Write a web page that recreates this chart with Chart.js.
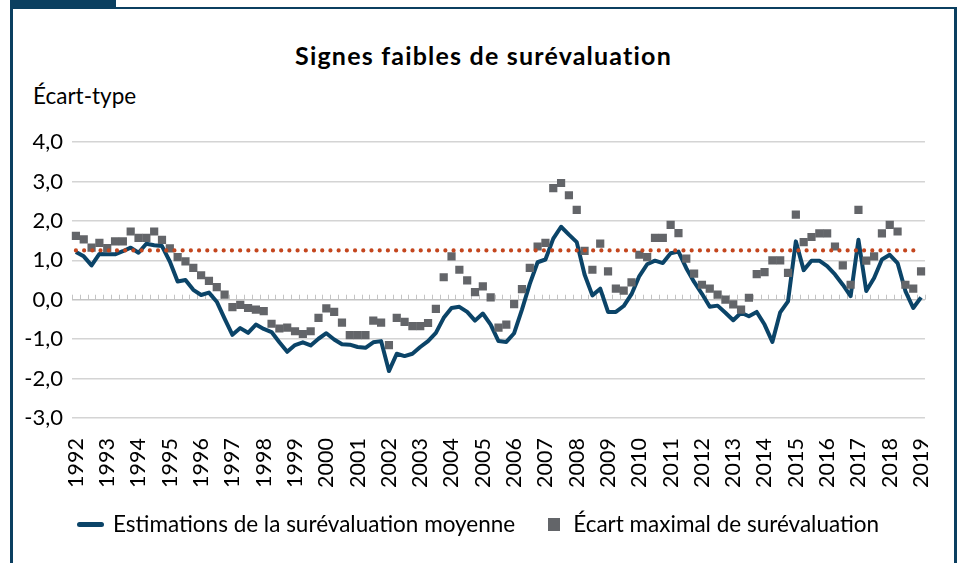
<!DOCTYPE html>
<html lang="fr">
<head>
<meta charset="utf-8">
<title>Signes faibles de surévaluation</title>
<script src="https://cdn.jsdelivr.net/npm/chart.js@4.4.1/dist/chart.umd.min.js"></script>
<style>
  html, body { margin: 0; padding: 0; background: #fff; }
  body { width: 959px; height: 563px; position: relative; overflow: hidden; font-family: Lato, "Open Sans", sans-serif; color: #000; }
  #onglet { position: absolute; left: 10px; top: 0; width: 106px; height: 9px; background: #0b3f60; }
  #cadre { position: absolute; left: 10px; top: 7px; width: 947px; height: 560px; box-sizing: border-box;
           border: 2px solid #0b3f60; border-left-width: 3px; border-right-width: 3px; border-bottom: none; }
  #titre { position: absolute; left: 4px; top: 40px; width: 959px; text-align: center; font-weight: bold; font-size: 25px; letter-spacing: 1.2px; line-height: 30px; }
  #unite { position: absolute; left: 33px; top: 83px; font-size: 22.5px; line-height: 26px; }
  #graphique { position: absolute; left: 0; top: 0; }
  #legende { position: absolute; left: 77px; top: 510px; display: flex; align-items: center; font-size: 22.5px; line-height: 28px; }
  #legende .trait { width: 27px; height: 5px; border-radius: 3px; background: #0b4468; margin-right: 9px; }
  #legende .carre { width: 12px; height: 13px; background: #636569; margin: 0 13px 0 33px; }
</style>
</head>
<body>
<div id="onglet"></div>
<div id="cadre"></div>
<div id="titre">Signes faibles de surévaluation</div>
<div id="unite">Écart-type</div>
<canvas id="graphique" width="959" height="563"></canvas>
<div id="legende">
  <span class="trait"></span><span>Estimations de la surévaluation moyenne</span>
  <span class="carre"></span><span>Écart maximal de surévaluation</span>
</div>
<script>
// trimestres 1992T1 -> 2019T1
const annees = [];
for (let a = 1992; a <= 2019; a++) {
  const nb = a === 2019 ? 1 : 4;
  for (let t = 1; t <= nb; t++) annees.push(a + "T" + t);
}

const moyenne = [
  1.21, 1.10, 0.87, 1.16, 1.15, 1.15, 1.23, 1.32, 1.19, 1.42, 1.38, 1.36,
  0.97, 0.46, 0.50, 0.25, 0.12, 0.18, -0.05, -0.48, -0.89, -0.72, -0.84, -0.63,
  -0.74, -0.82, -1.08, -1.32, -1.15, -1.08, -1.16, -0.99, -0.85, -1.01, -1.13, -1.14,
  -1.20, -1.22, -1.08, -1.05, -1.81, -1.37, -1.43, -1.37, -1.20, -1.05, -0.84, -0.46,
  -0.21, -0.18, -0.31, -0.53, -0.35, -0.63, -1.05, -1.07, -0.85, -0.25, 0.40, 0.95,
  1.02, 1.55, 1.85, 1.65, 1.46, 0.64, 0.11, 0.28, -0.31, -0.31, -0.16, 0.14,
  0.60, 0.90, 0.99, 0.93, 1.18, 1.22, 0.80, 0.45, 0.15, -0.18, -0.15, -0.33,
  -0.52, -0.33, -0.42, -0.31, -0.63, -1.07, -0.32, -0.04, 1.48, 0.75, 0.99, 0.99,
  0.85, 0.64, 0.38, 0.09, 1.52, 0.22, 0.55, 1.02, 1.14, 0.93, 0.22, -0.21,
  0.06
];

const ecartMax = [
  1.62, 1.53, 1.32, 1.44, 1.31, 1.48, 1.48, 1.73, 1.57, 1.57, 1.73, 1.52,
  1.30, 1.08, 0.97, 0.81, 0.62, 0.48, 0.32, 0.13, -0.19, -0.13, -0.21, -0.25,
  -0.29, -0.61, -0.73, -0.71, -0.80, -0.87, -0.80, -0.46, -0.22, -0.31, -0.58, -0.90,
  -0.90, -0.90, -0.53, -0.58, -1.15, -0.46, -0.56, -0.67, -0.67, -0.59, -0.23, 0.57,
  1.10, 0.76, 0.49, 0.19, 0.34, 0.06, -0.71, -0.63, -0.11, 0.27, 0.81, 1.35,
  1.44, 2.83, 2.96, 2.65, 2.28, 1.24, 0.76, 1.42, 0.72, 0.28, 0.23, 0.44,
  1.14, 1.08, 1.57, 1.57, 1.90, 1.69, 1.04, 0.66, 0.38, 0.28, 0.13, 0.00,
  -0.12, -0.25, 0.05, 0.65, 0.70, 1.00, 1.00, 0.68, 2.16, 1.46, 1.59, 1.68,
  1.68, 1.35, 0.87, 0.38, 2.28, 0.99, 1.10, 1.68, 1.90, 1.73, 0.38, 0.28,
  0.72
];

// seuil horizontal (pointillés rouges)
const seuil = 1.25;

const ticksY = [-3, -2, -1, 0, 1, 2, 3, 4];

// petites graduations sur l'axe zéro, entre chaque trimestre
const graduations = {
  id: "graduations",
  beforeDatasetsDraw(chart) {
    const x = chart.scales.x, y = chart.scales.y;
    const y0 = y.getPixelForValue(0);
    const pas = x.getPixelForValue(1) - x.getPixelForValue(0);
    const c = chart.ctx;
    c.save();
    c.strokeStyle = "#c4c4c4";
    c.lineWidth = 1;
    for (let i = 0; i <= annees.length; i++) {
      const px = Math.round(x.getPixelForValue(0) - pas / 2 + i * pas) + 0.5;
      c.beginPath();
      c.moveTo(px, y0);
      c.lineTo(px, y0 - 5);
      c.stroke();
    }
    c.restore();
  }
};

new Chart(document.getElementById("graphique"), {
  type: "line",
  data: {
    labels: annees,
    datasets: [
      {
        label: "seuil",
        data: annees.map(() => seuil),
        borderColor: "#c4461e",
        borderWidth: 4.2,
        borderDash: [0.01, 8.2],
        borderCapStyle: "round",
        pointRadius: 0,
        order: 1
      },
      {
        label: "Écart maximal de surévaluation",
        data: ecartMax,
        showLine: false,
        pointStyle: "rect",
        pointRadius: 5.8,
        pointBackgroundColor: "#636569",
        pointBorderWidth: 0,
        order: 2
      },
      {
        label: "Estimations de la surévaluation moyenne",
        data: moyenne,
        borderColor: "#0b4468",
        borderWidth: 4,
        borderJoinStyle: "round",
        tension: 0,
        pointRadius: 0,
        order: 3
      }
    ]
  },
  options: {
    responsive: false,
    devicePixelRatio: 1,
    animation: false,
    layout: { padding: { left: 10, right: 32, top: 142, bottom: 0 } },
    plugins: { legend: { display: false }, tooltip: { enabled: false } },
    scales: {
      x: {
        offset: true,
        grid: { display: false },
        border: { display: false },
        afterFit(s) { s.height = 145; },
        ticks: {
          autoSkip: false,
          minRotation: 90,
          maxRotation: 90,
          padding: 12,
          color: "#000",
          font: { family: "Lato", size: 21.5 },
          callback(v, i) { return i % 4 === 0 ? annees[i].slice(0, 4) : ""; }
        }
      },
      y: {
        min: -3,
        max: 4,
        afterFit(s) { s.width = 62; },
        afterBuildTicks(s) { s.ticks = ticksY.map(v => ({ value: v })); },
        grid: {
          drawTicks: false,
          lineWidth: 1.5,
          color: ctx => ctx.tick && ctx.tick.value === 0 ? "#c4c4c4" : "#d4d4d4"
        },
        border: { display: false },
        ticks: {
          padding: 9,
          color: "#000",
          font: { family: "Lato", size: 22 },
          callback: v => v.toFixed(1).replace(".", ",")
        }
      }
    }
  },
  plugins: [graduations]
});
</script>
</body>
</html>
